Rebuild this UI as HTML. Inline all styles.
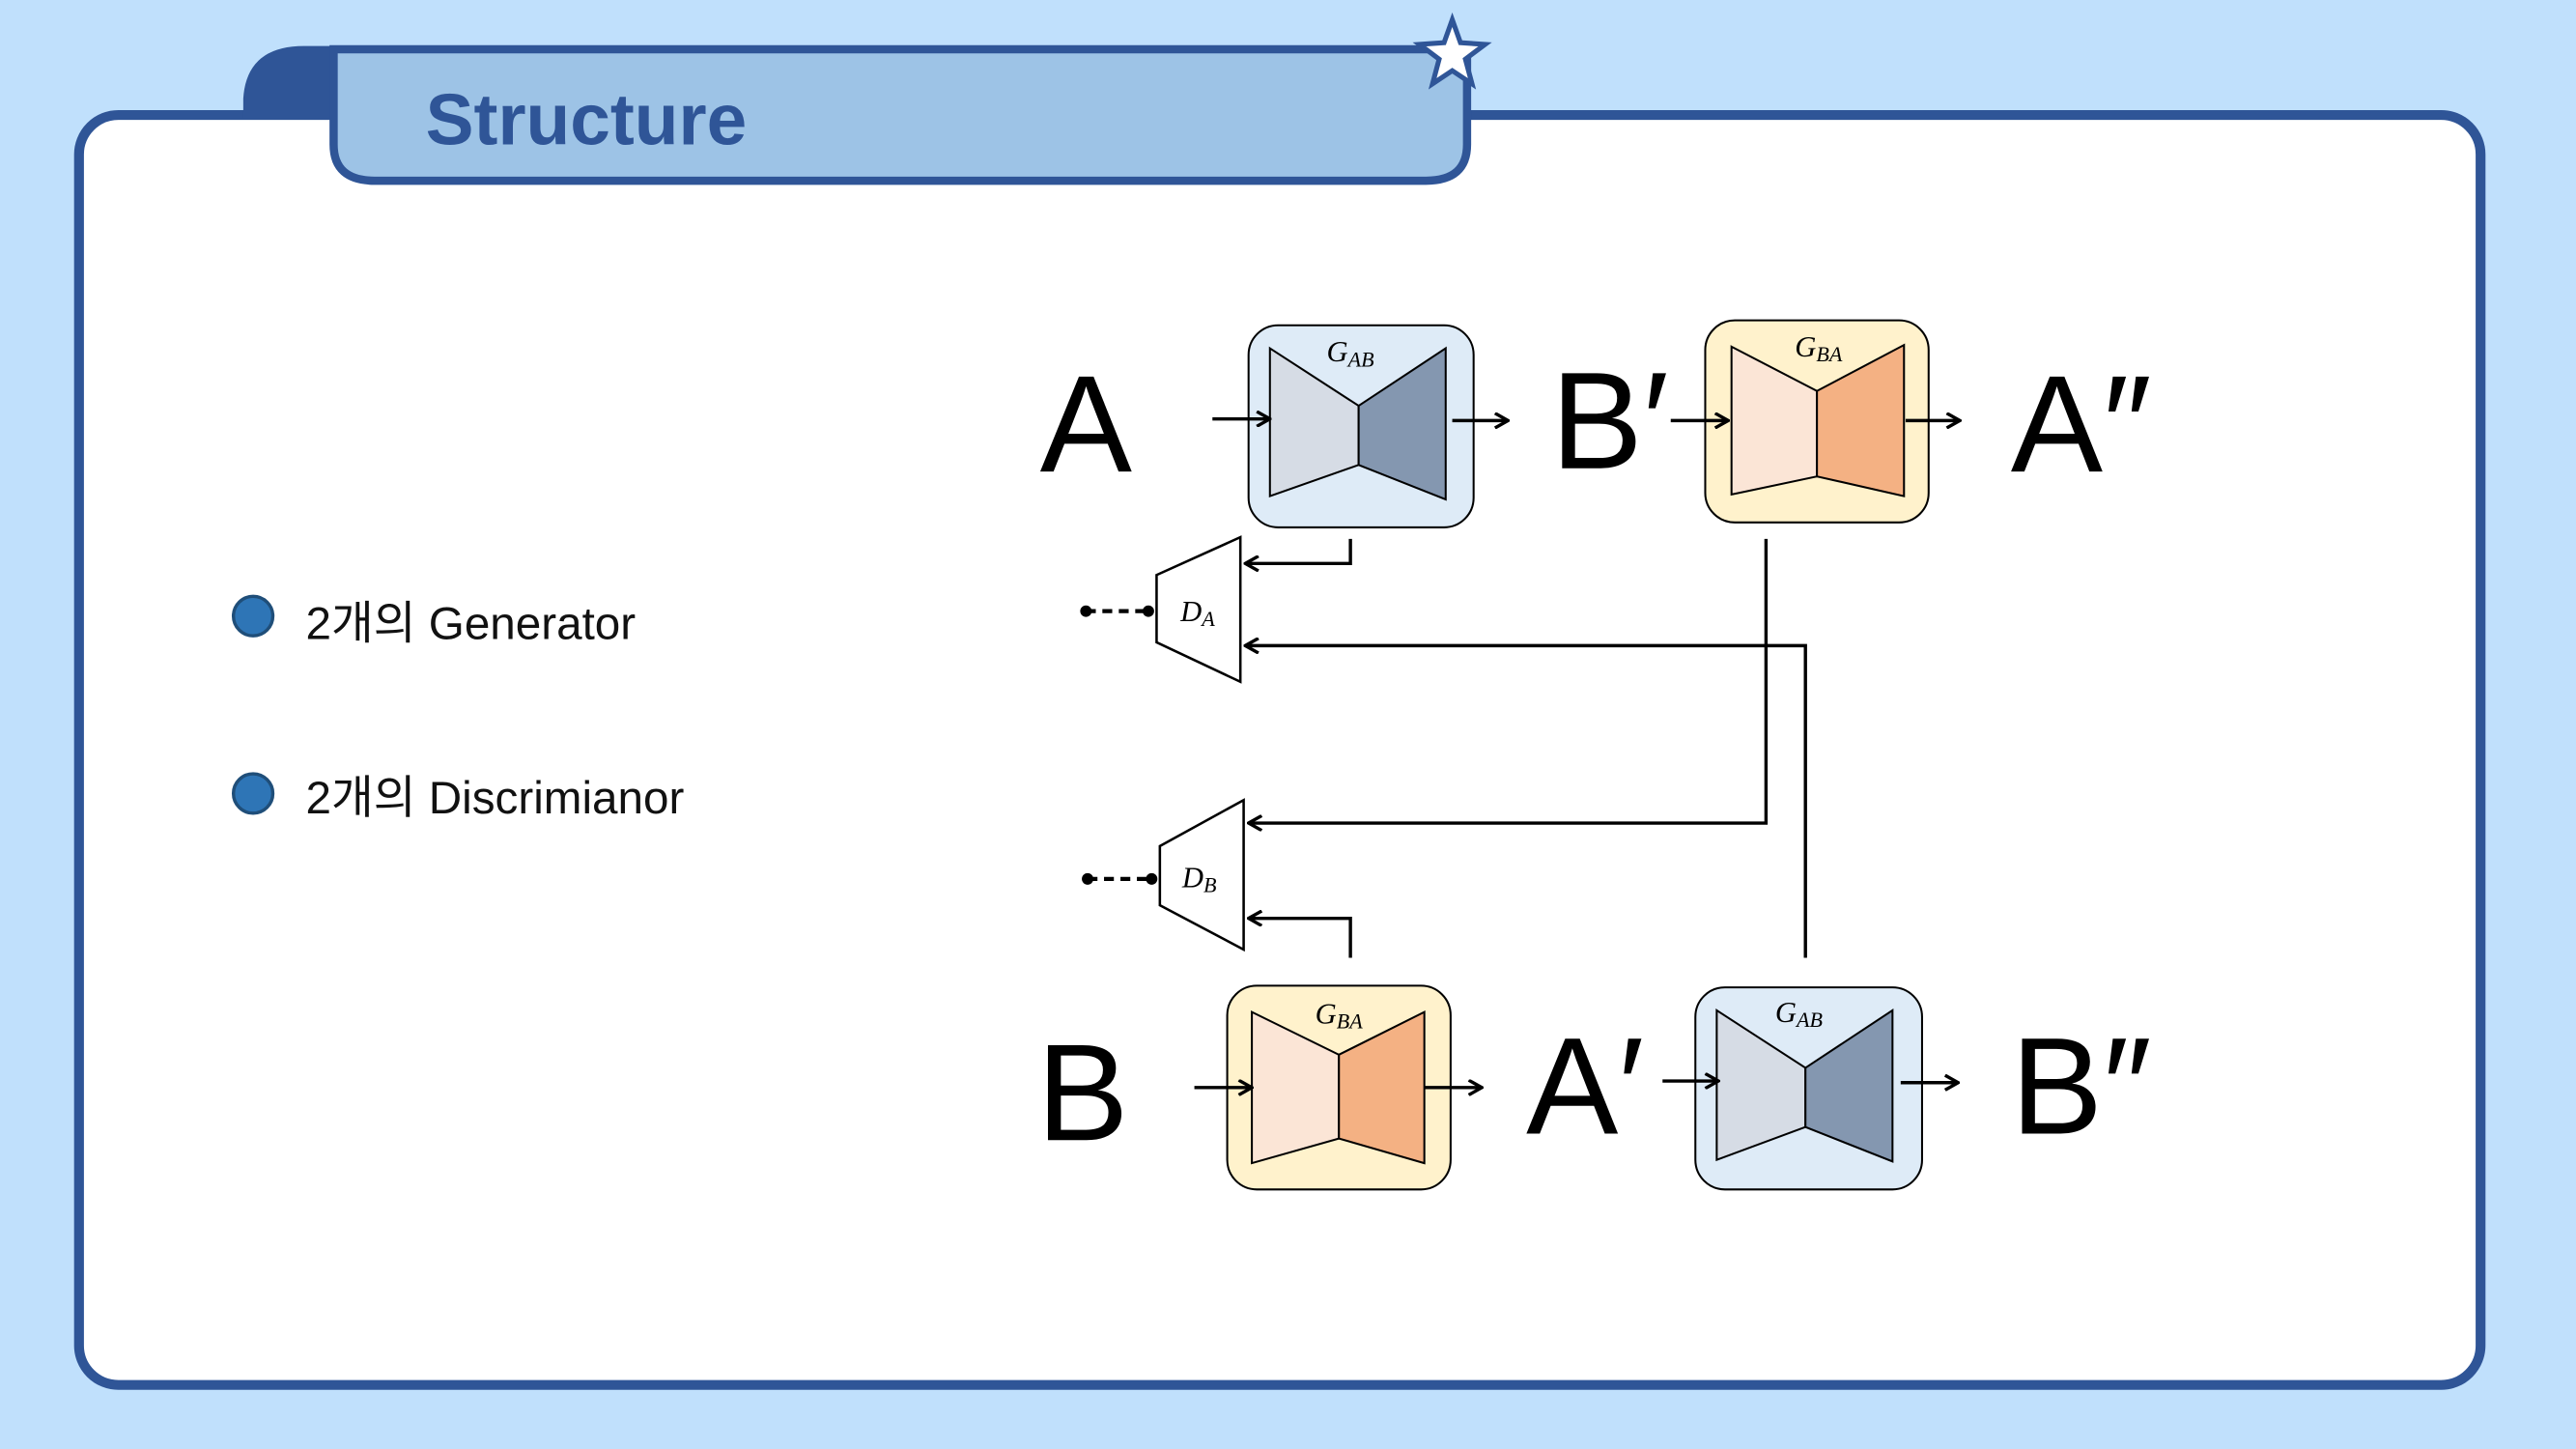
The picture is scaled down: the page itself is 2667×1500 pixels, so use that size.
<!DOCTYPE html>
<html><head><meta charset="utf-8"><style>
html,body{margin:0;padding:0;background:#c0e0fc;}
svg{display:block;}
text{font-family:"Liberation Sans","Noto Sans CJK KR",sans-serif;}
.m{font-family:"Liberation Serif",serif;font-style:italic;}
</style></head><body>
<svg width="2667" height="1500" viewBox="0 0 1568 882" xmlns="http://www.w3.org/2000/svg">
<defs>
<marker id="ar" viewBox="0 0 10 10" refX="9" refY="5" markerWidth="10" markerHeight="10" orient="auto" markerUnits="userSpaceOnUse">
<path d="M1,0.5 L9,5 L1,9.5" fill="none" stroke="#000" stroke-width="2"/>
</marker>
</defs>
<rect width="1568" height="882" fill="#c0e0fc"/>
<rect x="48" y="70" width="1462" height="773" rx="24" fill="#fff" stroke="#2f5597" stroke-width="6"/>
<path d="M148,72 L148,60 Q150,28 185,28 L215,28 L215,72 Z" fill="#2f5597"/>
<path d="M203,30 L893,30 L893,88 Q893,110 868,110 L228,110 Q203,110 203,88 Z" fill="#9dc3e6" stroke="#2f5597" stroke-width="5"/>
<polygon points="884,12 889,26 904,27 892,36 896,51 884,43 872,51 876,36 864,27 879,26" fill="#fff" stroke="#2f5597" stroke-width="3"/>
<text x="259" y="88" font-size="44" font-weight="bold" fill="#2f5597">Structure</text>

<circle cx="154" cy="375" r="12" fill="#2e75b6" stroke="#1f4e79" stroke-width="2"/>
<text x="186" y="389" font-size="28" fill="#111">2개의 Generator</text>
<circle cx="154" cy="483" r="12" fill="#2e75b6" stroke="#1f4e79" stroke-width="2"/>
<text x="186" y="495" font-size="28" fill="#111">2개의 Discrimianor</text>

<g font-size="84" fill="#000">
<text x="633" y="287">A</text>
<text x="944" y="285">B′</text>
<text x="1224" y="287">A″</text>
<text x="631" y="694">B</text>
<text x="929" y="690">A′</text>
<text x="1224" y="690">B″</text>
</g>

<rect x="760" y="198" width="137" height="123" rx="18" fill="#deebf7" stroke="#000" stroke-width="1.2"/>
<polygon points="773,212 827,247 827,283 773,302" fill="#d6dce5" stroke="#000" stroke-width="1.2"/>
<polygon points="827,247 880,212 880,304 827,283" fill="#8497b0" stroke="#000" stroke-width="1.2"/>
<text x="822" y="220" class="m" font-size="18" text-anchor="middle">G<tspan font-size="13" dy="3">AB</tspan></text>

<rect x="1038" y="195" width="136" height="123" rx="18" fill="#fff2cc" stroke="#000" stroke-width="1.2"/>
<polygon points="1054,211 1106,238 1106,290 1054,301" fill="#fbe5d6" stroke="#000" stroke-width="1.2"/>
<polygon points="1106,238 1159,210 1159,302 1106,290" fill="#f4b183" stroke="#000" stroke-width="1.2"/>
<text x="1107" y="217" class="m" font-size="18" text-anchor="middle">G<tspan font-size="13" dy="3">BA</tspan></text>

<rect x="747" y="600" width="136" height="124" rx="18" fill="#fff2cc" stroke="#000" stroke-width="1.2"/>
<polygon points="762,616 815,642 815,693 762,708" fill="#fbe5d6" stroke="#000" stroke-width="1.2"/>
<polygon points="815,642 867,616 867,708 815,693" fill="#f4b183" stroke="#000" stroke-width="1.2"/>
<text x="815" y="623" class="m" font-size="18" text-anchor="middle">G<tspan font-size="13" dy="3">BA</tspan></text>

<rect x="1032" y="601" width="138" height="123" rx="18" fill="#deebf7" stroke="#000" stroke-width="1.2"/>
<polygon points="1045,615 1099,650 1099,686 1045,706" fill="#d6dce5" stroke="#000" stroke-width="1.2"/>
<polygon points="1099,650 1152,615 1152,707 1099,686" fill="#8497b0" stroke="#000" stroke-width="1.2"/>
<text x="1095" y="622" class="m" font-size="18" text-anchor="middle">G<tspan font-size="13" dy="3">AB</tspan></text>

<g stroke="#000" stroke-width="2" fill="none" marker-end="url(#ar)">
<line x1="738" y1="255" x2="773" y2="255"/>
<line x1="884" y1="256" x2="918" y2="256"/>
<line x1="1017" y1="256" x2="1052" y2="256"/>
<line x1="1160" y1="256" x2="1193" y2="256"/>
<line x1="727" y1="662" x2="762" y2="662"/>
<line x1="867" y1="662" x2="902" y2="662"/>
<line x1="1012" y1="658" x2="1046" y2="658"/>
<line x1="1157" y1="659" x2="1192" y2="659"/>
<polyline points="822,328 822,343 758,343"/>
<polyline points="1075,328 1075,501 760,501"/>
<polyline points="1099,583 1099,393 758,393"/>
<polyline points="822,583 822,559 760,559"/>
</g>

<polygon points="704,350 755,327 755,415 704,391" fill="#fff" stroke="#000" stroke-width="1.5"/>
<text x="729" y="378" class="m" font-size="18" text-anchor="middle">D<tspan font-size="13" dy="3">A</tspan></text>
<line x1="661" y1="372" x2="698" y2="372" stroke="#000" stroke-width="2.5" stroke-dasharray="6,4"/>
<circle cx="661" cy="372" r="3.5"/><circle cx="699" cy="372" r="3.5"/>
<polygon points="706,515 757,487 757,578 706,551" fill="#fff" stroke="#000" stroke-width="1.5"/>
<text x="730" y="540" class="m" font-size="18" text-anchor="middle">D<tspan font-size="13" dy="3">B</tspan></text>
<line x1="662" y1="535" x2="700" y2="535" stroke="#000" stroke-width="2.5" stroke-dasharray="6,4"/>
<circle cx="662" cy="535" r="3.5"/><circle cx="701" cy="535" r="3.5"/>
</svg>
</body></html>
